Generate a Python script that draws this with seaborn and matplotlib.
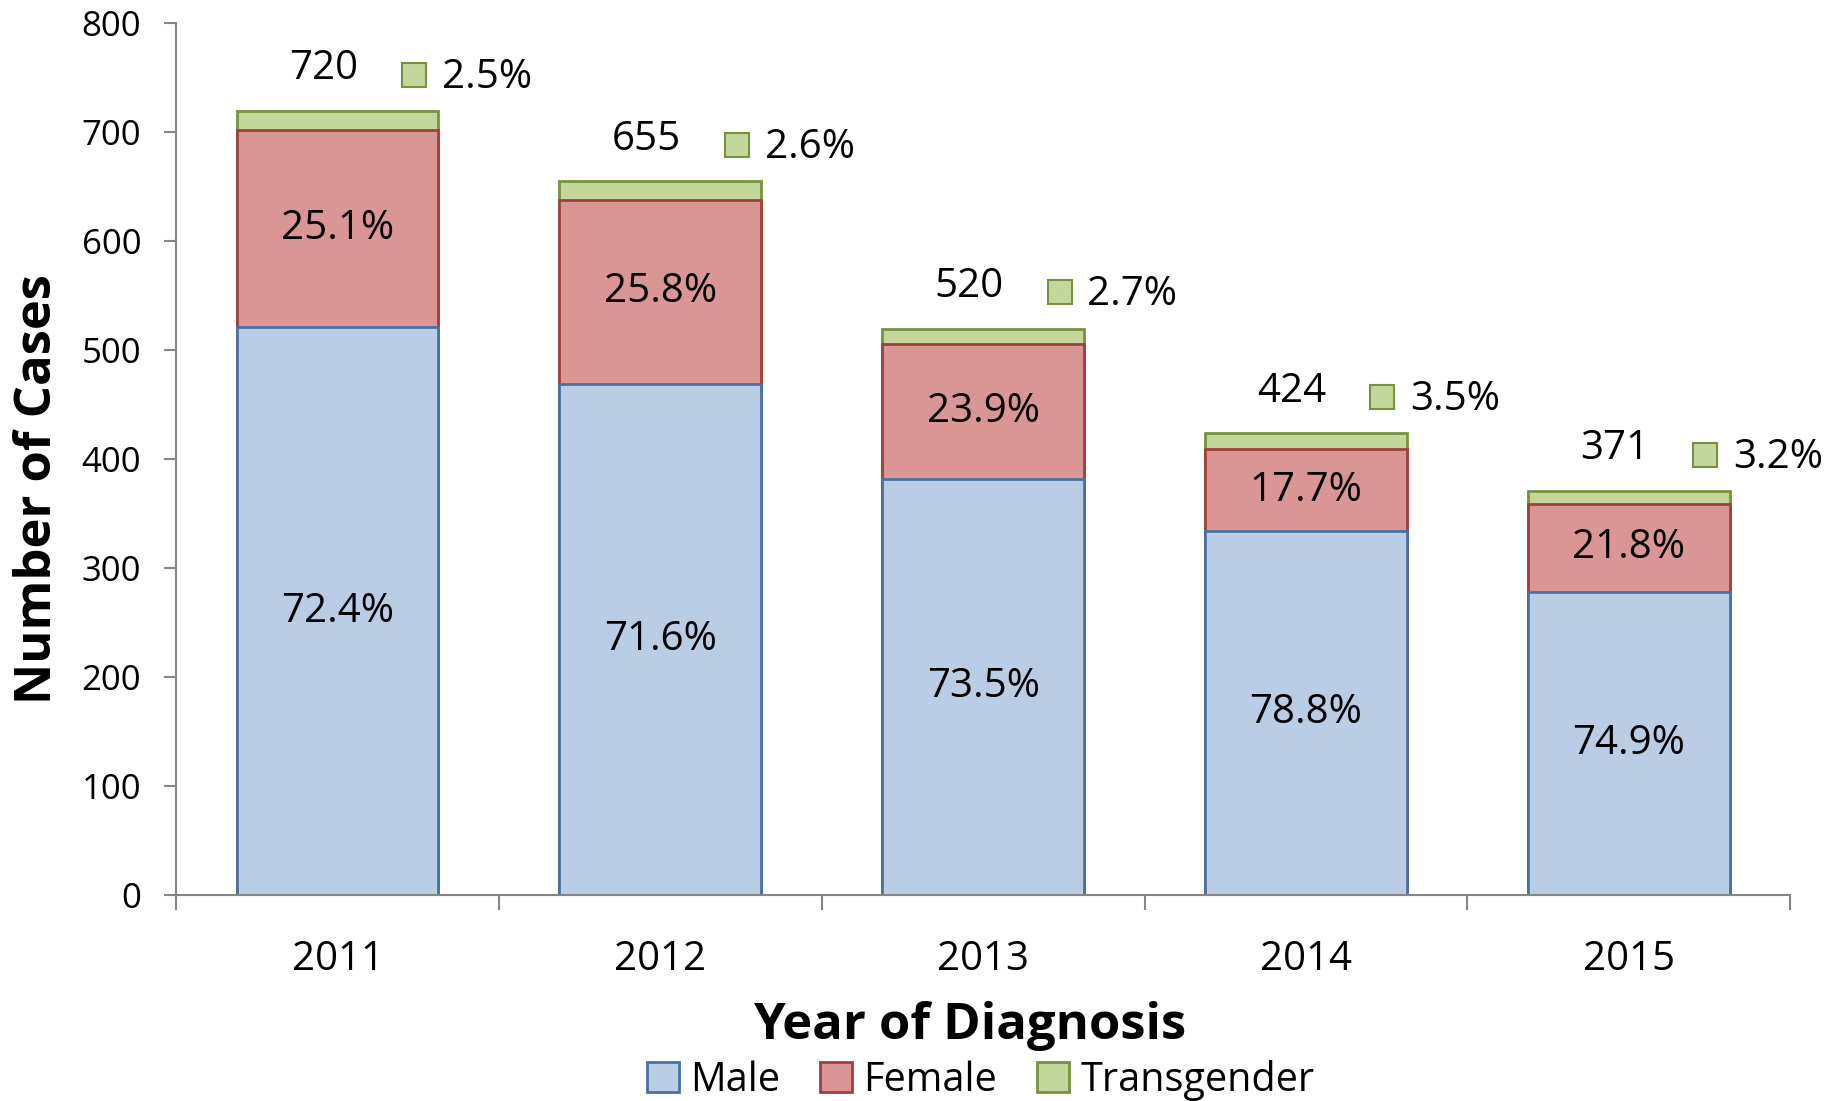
import numpy as np
import pandas as pd
import matplotlib
matplotlib.use('Agg')
import matplotlib.pyplot as plt
import matplotlib.transforms as mtransforms
from matplotlib.patches import Patch
import seaborn as sns

# ================== Data ==================
years = ['2011', '2012', '2013', '2014', '2015']
male = [521, 469, 382, 334, 278]
female = [181, 169, 124, 75, 81]
transgender = [18, 17, 14, 15, 12]
totals = [720, 655, 520, 424, 371]
male_pct = ['72.4%', '71.6%', '73.5%', '78.8%', '74.9%']
female_pct = ['25.1%', '25.8%', '23.9%', '17.7%', '21.8%']
trans_pct = ['2.5%', '2.6%', '2.7%', '3.5%', '3.2%']

df = pd.DataFrame({'year': years, 'male': male, 'female': female, 'trans': transgender})
df['male_female'] = df['male'] + df['female']
df['total'] = df['male_female'] + df['trans']

# colours (excel-ish)
c_male, e_male = '#B9CDE5', '#4A71A6'
c_fem, e_fem = '#DA9694', '#A0403D'
c_tr, e_tr = '#C3D69B', '#77933C'

sns.set_style('white')
plt.rcParams['font.family'] = ['Open Sans', 'DejaVu Sans']
plt.rcParams['text.color'] = 'black'
plt.rcParams['axes.labelcolor'] = 'black'
plt.rcParams['xtick.labelcolor'] = 'black'
plt.rcParams['ytick.labelcolor'] = 'black'

fig = plt.figure(figsize=(18.4, 11.01), dpi=100)
ax = fig.add_axes([0.0957, 0.187, 0.8773, 0.7917])

bw = 0.625
# stacked bars drawn back to front
sns.barplot(data=df, x='year', y='total', color=c_tr, edgecolor=e_tr, linewidth=2,
            saturation=1, width=bw, ax=ax)
sns.barplot(data=df, x='year', y='male_female', color=c_fem, edgecolor=e_fem, linewidth=2,
            saturation=1, width=bw, ax=ax)
sns.barplot(data=df, x='year', y='male', color=c_male, edgecolor=e_male, linewidth=2,
            saturation=1, width=bw, ax=ax)

# ================== Labels ==================
for i in range(len(years)):
    ax.text(i, df['male'][i] / 2, male_pct[i], ha='center', va='center', fontsize=29)
    ax.text(i, df['male'][i] + df['female'][i] / 2, female_pct[i], ha='center', va='center', fontsize=29)
    ax.annotate(str(totals[i]), xy=(i, df['total'][i]), xytext=(-10, 30),
                textcoords='offset points', ha='center', va='center', fontsize=29)
    sq = mtransforms.offset_copy(ax.transData, fig=fig, x=55, y=26, units='points')
    ax.plot([i], [df['total'][i]], marker='s', markersize=17, markerfacecolor=c_tr,
            markeredgecolor=e_tr, markeredgewidth=1.5, transform=sq, clip_on=False)
    ax.annotate(trans_pct[i], xy=(i, df['total'][i]), xytext=(75, 24),
                textcoords='offset points', ha='left', va='center', fontsize=29)

# ================== Axes ==================
ax.set_ylim(0, 800)
ax.set_xlim(-0.5, len(years) - 0.5)
ax.set_yticks(np.arange(0, 801, 100))
ax.set_xticks(np.arange(-0.5, len(years), 1.0), minor=True)
ax.tick_params(axis='y', which='major', labelsize=25, length=9, width=1.5,
               color='#868686', pad=16, left=True)
ax.tick_params(axis='x', which='major', labelsize=29, length=0, pad=32)
ax.tick_params(axis='x', which='minor', length=11, width=1.5, color='#868686', bottom=True)
for s in ['top', 'right']:
    ax.spines[s].set_visible(False)
for s in ['left', 'bottom']:
    ax.spines[s].set_color('#868686')
    ax.spines[s].set_linewidth(1.5)

ax.set_xlabel('Year of Diagnosis', fontsize=36.5, fontweight='bold', va='center')
ax.set_ylabel('Number of Cases', fontsize=36.5, fontweight='bold', va='center')
ax.xaxis.set_label_coords(0.4916, -0.150)
ax.yaxis.set_label_coords(-0.0855, 0.466)

handles = [Patch(facecolor=c_male, edgecolor=e_male, linewidth=2, label='Male'),
           Patch(facecolor=c_fem, edgecolor=e_fem, linewidth=2, label='Female'),
           Patch(facecolor=c_tr, edgecolor=e_tr, linewidth=2, label='Transgender')]
fig.legend(handles=handles, loc='center', bbox_to_anchor=(0.533, 0.019), ncol=3,
           frameon=False, fontsize=28.5, handlelength=0.8, handleheight=0.8,
           handletextpad=0.3, columnspacing=1.0, borderpad=0)

fig.savefig('out.png', dpi=100)
